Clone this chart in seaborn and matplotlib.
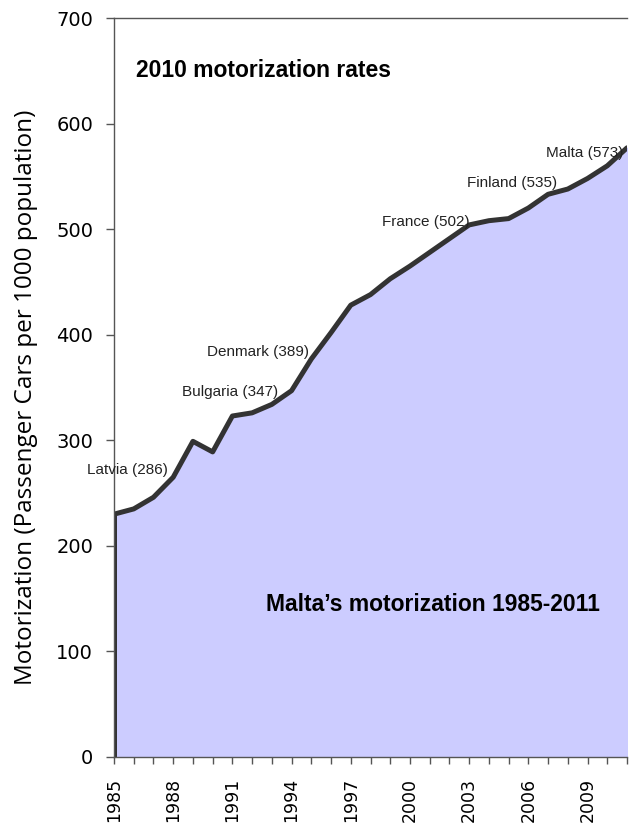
import numpy as np
import pandas as pd
import seaborn as sns
import matplotlib.pyplot as plt

years = list(range(1985, 2012))
motorization = [230, 235, 246, 265, 299, 289, 323, 326, 334, 347, 377, 402, 428, 438,
                453, 465, 478, 491, 504, 508, 510, 520, 533, 538, 548, 560, 577]

# 2010 country rates, label anchors (right edge) in data coords
countries = ["Latvia", "Bulgaria", "Denmark", "France", "Finland", "Malta"]
rates = [286, 347, 389, 502, 535, 573]
label_x = [1987.75, 1993.3, 1994.9, 2003.0, 2007.45, 2010.8]
label_y = [272, 346, 384, 507, 544, 572]

df = pd.DataFrame({"year": years, "motorization": motorization})

sns.set_style("white")
plt.rcParams["font.family"] = ["DejaVu Sans"]

fig = plt.figure(figsize=(6.29, 8.27), dpi=100)
ax = fig.add_axes([114 / 629, 70 / 827, 513 / 629, 739 / 827])

ax.fill_between(df["year"], df["motorization"], color="#ccccff", zorder=1)
sns.lineplot(data=df, x="year", y="motorization", ax=ax, color="#333333", lw=3.6, zorder=2)
ax.plot([1985, 1985], [0, motorization[0]], color="#333333", lw=3.6, zorder=2)

for c, r, x, y in zip(countries, rates, label_x, label_y):
    ax.text(x, y, f"{c} ({r})", ha="right", va="center", fontsize=11,
            family="Liberation Sans", color="#222222", clip_on=False)

ax.text(1986.1, 650, "2010 motorization rates", fontsize=16.5, fontweight="bold",
        family="Liberation Sans", va="center", color="black")
ax.text(1992.7, 144, "Malta\u2019s motorization 1985-2011", fontsize=16.5, fontweight="bold",
        family="Liberation Sans", va="center", color="black")

ax.set_xlim(1985, 2011)
ax.set_ylim(0, 700)
ax.set_yticks(np.arange(0, 701, 100))
ax.set_xticks(np.arange(1985, 2012, 3))
ax.set_xticks(np.arange(1985, 2012, 1), minor=True)
ax.tick_params(axis="y", which="major", direction="out", length=6, width=1,
               color="#555555", labelsize=14, labelcolor="black", left=True, pad=9)
ax.tick_params(axis="x", which="both", direction="out", length=5, width=1,
               color="#555555", labelsize=12.5, labelcolor="black", bottom=True,
               rotation=90, pad=10)
ax.set_xlabel("")
ax.set_ylabel("Motorization (Passenger Cars per 1000 population)", fontsize=17.5,
              family="Open Sans", color="black")
ax.yaxis.set_label_coords(-0.148, 0.487)
for s in ["left", "top", "bottom"]:
    ax.spines[s].set_color("#555555")
    ax.spines[s].set_linewidth(1)
ax.spines["right"].set_visible(False)

fig.savefig("out.png", dpi=100)
